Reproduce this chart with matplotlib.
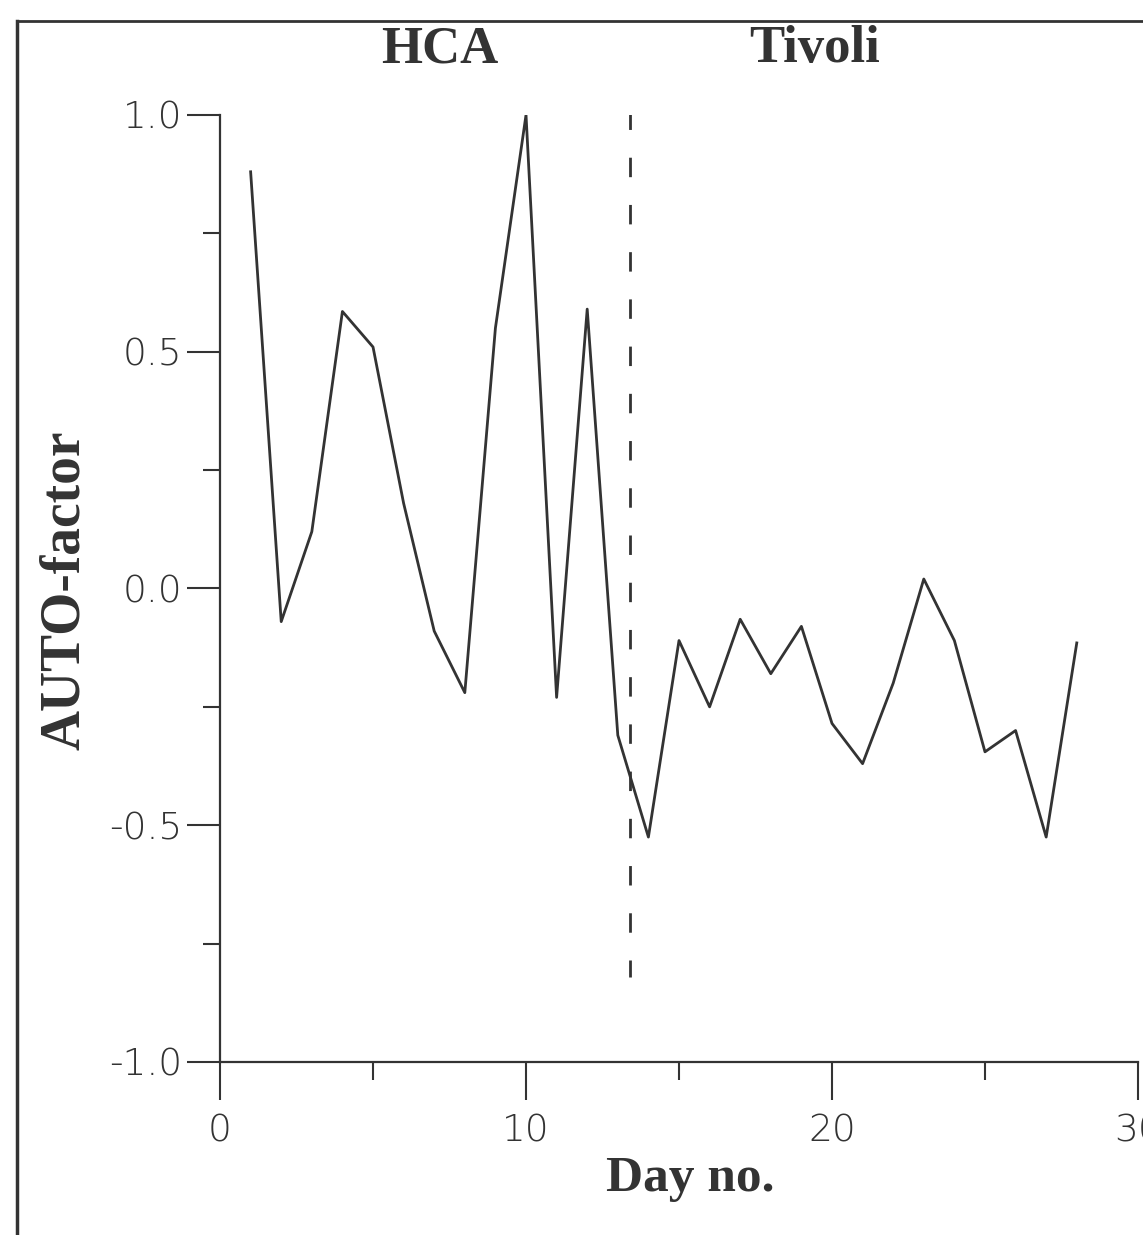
import matplotlib
matplotlib.use("Agg")
import matplotlib.pyplot as plt
from matplotlib.lines import Line2D
from matplotlib.ticker import MultipleLocator

# AUTO-factor per day (HCA days 1-13, Tivoli days 14-28)
days = list(range(1, 29))
auto_factor = [0.88, -0.07, 0.12, 0.585, 0.51, 0.18, -0.09, -0.22, 0.55, 1.0,
               -0.23, 0.59, -0.31, -0.525, -0.11, -0.25, -0.065, -0.18, -0.08, -0.285,
               -0.37, -0.2, 0.02, -0.11, -0.345, -0.30, -0.525, -0.115]
split_day = 13.4
split_span = [1.01, -0.82]
y_ticks = [-1.0, -0.5, 0.0, 0.5, 1.0]
y_tick_labels = ["-1.0", "-0.5", "0.0", "0.5", "1.0"]
x_ticks = [0, 10, 20, 30]
x_tick_labels = ["0", "10", "20", "30"]

ink = "#333333"
tick_font = ["Liberation Sans Narrow", "DejaVu Sans"]
serif = ["Liberation Serif", "DejaVu Serif"]

fig = plt.figure(figsize=(11.43, 12.35), dpi=100)
ax = fig.add_axes([0.1925, 0.1401, 0.8031, 0.7668])

ax.plot(days, auto_factor, color=ink, lw=2.0)
# dashed separator, drawn top-down so the dash pattern starts at the top
ax.plot([split_day, split_day], split_span, color=ink, lw=2.0, ls=(0, (7, 10)))

ax.set_xlim(0, 30)
ax.set_ylim(-1, 1)
for s in ["top", "right"]:
    ax.spines[s].set_visible(False)
for s in ["left", "bottom"]:
    ax.spines[s].set_color(ink)
    ax.spines[s].set_linewidth(1.6)

ax.set_yticks(y_ticks)
ax.set_yticklabels(y_tick_labels)
ax.yaxis.set_minor_locator(MultipleLocator(0.25))
ax.set_xticks(x_ticks)
ax.set_xticklabels(x_tick_labels)
ax.xaxis.set_minor_locator(MultipleLocator(5))

ax.tick_params(axis="y", which="major", direction="out", length=24, width=1.5,
               color=ink, pad=3, labelsize=27, labelcolor=ink)
ax.tick_params(axis="y", which="minor", direction="out", length=12, width=1.5, color=ink)
ax.tick_params(axis="x", which="major", direction="out", length=27, width=1.5,
               color=ink, pad=10, labelsize=27, labelcolor=ink)
ax.tick_params(axis="x", which="minor", direction="out", length=13, width=1.5, color=ink)
for lab in ax.get_xticklabels() + ax.get_yticklabels():
    lab.set_family(tick_font)
    lab.set_fontweight("light")

# labels
fig.text(0.604, 0.045, "Day no.", ha="center", va="center", fontsize=37,
         fontweight="bold", family=serif, color=ink)
fig.text(0.057, 0.522, "AUTO-factor", ha="center", va="center", rotation=90,
         fontsize=40, fontweight="bold", family=serif, color=ink)
fig.text(0.385, 0.960, "HCA", ha="center", va="center", fontsize=38,
         fontweight="bold", family=serif, color=ink)
fig.text(0.713, 0.960, "Tivoli", ha="center", va="center", fontsize=38,
         fontweight="bold", family=serif, color=ink)

# page frame from the scanned original
fig.add_artist(Line2D([0.015, 0.015], [0.0, 0.983], transform=fig.transFigure,
                      color=ink, lw=2.5))
fig.add_artist(Line2D([0.015, 1.0], [0.983, 0.983], transform=fig.transFigure,
                      color=ink, lw=2.0))

fig.savefig("out.png", dpi=100)
